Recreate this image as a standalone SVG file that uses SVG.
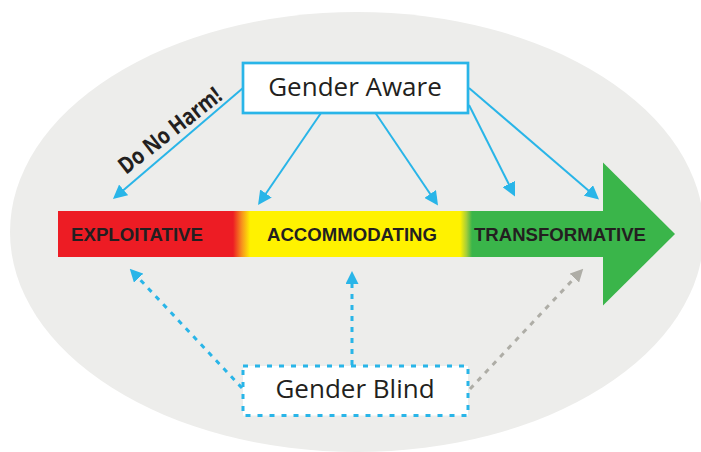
<svg xmlns="http://www.w3.org/2000/svg" width="701" height="452" viewBox="0 0 701 452">
  <style>
    .box { fill: #ffffff; stroke: #29b5e8; stroke-width: 2.7; }
    .dbox { fill: #ffffff; stroke: #29b5e8; stroke-width: 3; stroke-dasharray: 5 7; }
    .lbl { font-family: "Open Sans", "Liberation Sans", sans-serif; font-size: 26px; fill: #231f20; text-anchor: middle; }
    .bar { font-family: "Liberation Sans", Arial, sans-serif; font-size: 18px; font-weight: 700; fill: #231f20; }
    .solid { fill: none; stroke: #29b5e8; stroke-width: 2; marker-end: url(#ah); }
    .dash { fill: none; stroke: #29b5e8; stroke-width: 3; stroke-dasharray: 5 6; marker-end: url(#dh); }
    .gdash { fill: none; stroke: #aeada6; stroke-width: 3; stroke-dasharray: 5 6; marker-end: url(#gh); }
  </style>
  <defs>
    <linearGradient id="spectrum" gradientUnits="userSpaceOnUse" x1="58" y1="0" x2="604" y2="0">
      <stop offset="0" stop-color="#ed1c24"/>
      <stop offset="0.3205" stop-color="#ed1c24"/>
      <stop offset="0.337" stop-color="#f7941d"/>
      <stop offset="0.352" stop-color="#fff200"/>
      <stop offset="0.7363" stop-color="#fff200"/>
      <stop offset="0.748" stop-color="#a6ce39"/>
      <stop offset="0.7583" stop-color="#3ab54a"/>
      <stop offset="1" stop-color="#3ab54a"/>
    </linearGradient>
    <marker id="ah" markerUnits="userSpaceOnUse" markerWidth="14" markerHeight="14" refX="10" refY="7" orient="auto">
      <path d="M0,0 L14,7 L0,14 z" fill="#29b5e8"/>
    </marker>
    <marker id="dh" markerUnits="userSpaceOnUse" markerWidth="13" markerHeight="13" refX="9" refY="6.5" orient="auto">
      <path d="M0,0 L13,6.5 L0,13 z" fill="#29b5e8"/>
    </marker>
    <marker id="gh" markerUnits="userSpaceOnUse" markerWidth="13" markerHeight="13" refX="9" refY="6.5" orient="auto">
      <path d="M0,0 L13,6.5 L0,13 z" fill="#aeada6"/>
    </marker>
  </defs>

  <rect width="701" height="452" fill="#ffffff"/>
  <ellipse cx="357" cy="232" rx="347" ry="220" fill="#ededeb"/>

  <g id="spectrum-arrow">
    <rect x="58" y="211" width="546" height="46" fill="url(#spectrum)"/>
    <polygon points="603,162.5 675,234 603,305.5" fill="#3ab54a"/>
  </g>
  <g id="exploitative">
    <text class="bar" x="71" y="241" textLength="132" lengthAdjust="spacingAndGlyphs">EXPLOITATIVE</text>
  </g>
  <g id="accommodating">
    <text class="bar" x="267" y="241" textLength="170" lengthAdjust="spacingAndGlyphs">ACCOMMODATING</text>
  </g>
  <g id="transformative">
    <text class="bar" x="474" y="241" textLength="172" lengthAdjust="spacingAndGlyphs">TRANSFORMATIVE</text>
  </g>

  <g id="connectors">
    <path class="solid" d="M243,88 L116,196.4"/>
    <path class="solid" d="M321,113 L260.3,201.7"/>
    <path class="solid" d="M375.5,113 L435.8,202.2"/>
    <path class="solid" d="M469,105 L513.2,192.9"/>
    <path class="solid" d="M469,88 L596,196.9"/>
    <path class="dash" d="M242,388 L132.5,271.6"/>
    <path class="dash" d="M352,365 L352,275"/>
    <path class="gdash" d="M470,389 L580.5,271.6"/>
  </g>

  <g id="do-no-harm">
    <text x="0" y="0" transform="translate(126,175) rotate(-38)" font-family="'Open Sans', 'Liberation Sans', sans-serif" font-size="23" font-weight="700" fill="#231f20" textLength="124" lengthAdjust="spacingAndGlyphs">Do No Harm!</text>
  </g>

  <g id="gender-aware">
    <rect class="box" x="243" y="63" width="225" height="50"/>
    <text class="lbl" x="355" y="96">Gender Aware</text>
  </g>

  <g id="gender-blind">
    <rect class="dbox" x="243" y="366" width="225" height="49.5"/>
    <text class="lbl" x="355" y="398">Gender Blind</text>
  </g>
</svg>
